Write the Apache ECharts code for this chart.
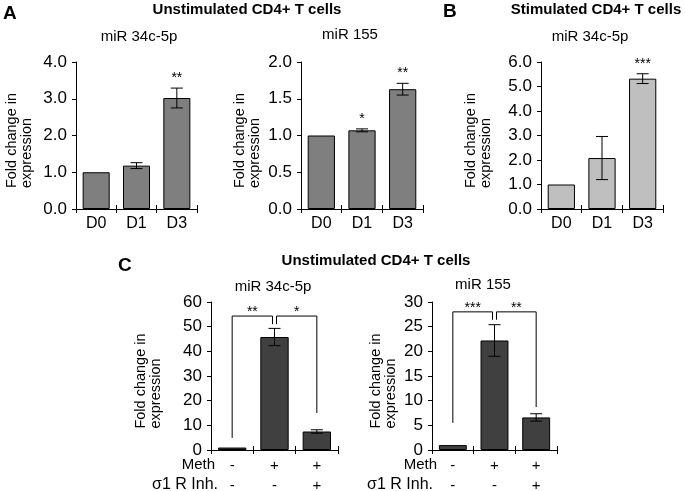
<!DOCTYPE html>
<html><head><meta charset="utf-8">
<script src="https://cdn.jsdelivr.net/npm/echarts/dist/echarts.min.js"></script>
<style>html,body{margin:0;padding:0;background:#fff}#c{width:685px;height:491px}</style>
</head><body><div id="c"></div><script>
// ---- data ----
const catsA = ['D0', 'D1', 'D3'];
const unstim34Values = [1.0, 1.18, 3.02];
const unstim34Err = [0, 0.08, 0.27];
const unstim34Stars = ['', '', '**'];
const unstim155Values = [1.0, 1.07, 1.63];
const unstim155Err = [0, 0.02, 0.08];
const unstim155Stars = ['', '*', '**'];
const stim34Values = [1.0, 2.08, 5.32];
const stim34Err = [0, 0.88, 0.20];
const stim34Stars = ['', '', '***'];
const catsC = ['-\n-', '+\n-', '+\n+'];
const meth34Values = [1.0, 45.8, 7.5];
const meth34Err = [0, 3.5, 0.7];
const meth155Values = [1.0, 22.2, 6.6];
const meth155Err = [0, 3.2, 0.75];
// brackets: [fromCat, toCat, topValue, fromLegBottom, toLegBottom]
const meth34Brackets = [[0, 1, 54.3, 4.9, 51.0], [1, 2, 54.3, 51.0, 15.0]];
const meth34BracketStars = ['**', '*'];
const meth155Brackets = [[0, 1, 28.0, 5.5, 26.4], [1, 2, 28.0, 26.4, 8.7]];
const meth155BracketStars = ['***', '**'];
const ticksA34 = ['0.0', '1.0', '2.0', '3.0', '4.0'];
const ticksA155 = ['0.0', '0.5', '1.0', '1.5', '2.0'];
const ticksB34 = ['0.0', '1.0', '2.0', '3.0', '4.0', '5.0', '6.0'];
const ticksC34 = ['0', '10', '20', '30', '40', '50', '60'];
const ticksC155 = ['0', '5', '10', '15', '20', '25', '30'];

const FONT = '"Liberation Sans", Arial, sans-serif';
const chart = echarts.init(document.getElementById('c'));

function makeErr(stars) {
  return function (params, api) {
    const x = api.value(0), v = api.value(1), e = api.value(2);
    const children = [];
    const top = api.coord([x, v + e]);
    const st = { stroke: '#000', lineWidth: 1 };
    if (e > 0) {
      const bot = api.coord([x, v - e]);
      const hw = 6;
      children.push({ type: 'line', shape: { x1: top[0], y1: top[1], x2: bot[0], y2: bot[1] }, style: st });
      children.push({ type: 'line', shape: { x1: top[0] - hw, y1: top[1], x2: top[0] + hw, y2: top[1] }, style: st });
      children.push({ type: 'line', shape: { x1: bot[0] - hw, y1: bot[1], x2: bot[0] + hw, y2: bot[1] }, style: st });
    }
    const s = stars && stars[params.dataIndex];
    if (s) children.push({ type: 'text', style: { text: s, x: top[0], y: top[1] - 3, align: 'center', verticalAlign: 'bottom', font: '14px ' + FONT, fill: '#000' } });
    return { type: 'group', children };
  };
}
function makeBracket(labels) {
  return function (params, api) {
    const a = api.value(0), b = api.value(1), top = api.value(2), fb = api.value(3), tb = api.value(4);
    const p1 = api.coord([a, fb]), p2 = api.coord([a, top]), p3 = api.coord([b, top]), p4 = api.coord([b, tb]);
    const inset = 2;
    const xa = p1[0] + (a === 1 ? inset : 0);
    const xb = p3[0] - (b === 1 ? inset : 0);
    const st = { stroke: '#000', lineWidth: 1, fill: null };
    return { type: 'group', children: [
      { type: 'polyline', shape: { points: [[xa, p1[1]], [xa, p2[1]], [xb, p3[1]], [xb, p4[1]]] }, style: st },
      { type: 'text', style: { text: labels[params.dataIndex], x: (xa + xb) / 2, y: p2[1] + 3, align: 'center', verticalAlign: 'bottom', font: '14px ' + FONT, fill: '#000' } }
    ] };
  };
}

const panels = [
  { cats: catsA, vals: unstim34Values, err: unstim34Err, stars: unstim34Stars, ticks: ticksA34, color: '#7f7f7f', grid: { left: 76, top: 62, width: 121, height: 147 }, nameGap: 42 },
  { cats: catsA, vals: unstim155Values, err: unstim155Err, stars: unstim155Stars, ticks: ticksA155, color: '#7f7f7f', grid: { left: 301, top: 62, width: 122, height: 147 }, nameGap: 39 },
  { cats: catsA, vals: stim34Values, err: stim34Err, stars: stim34Stars, ticks: ticksB34, color: '#bfbfbf', grid: { left: 541, top: 62, width: 122, height: 147 }, nameGap: 48 },
  { cats: catsC, vals: meth34Values, err: meth34Err, brackets: meth34Brackets, bstars: meth34BracketStars, ticks: ticksC34, color: '#404040', grid: { left: 211, top: 302, width: 127, height: 148 }, nameGap: 48, table: true },
  { cats: catsC, vals: meth155Values, err: meth155Err, brackets: meth155Brackets, bstars: meth155BracketStars, ticks: ticksC155, color: '#404040', grid: { left: 432, top: 302, width: 125, height: 148 }, nameGap: 34, table: true }
];

const grid = [], xAxis = [], yAxis = [], series = [];
panels.forEach((p, i) => {
  grid.push(Object.assign({ containLabel: false, outerBoundsMode: 'none' }, p.grid));
  const tv = p.ticks.map(Number);
  const min = tv[0], max = tv[tv.length - 1], interval = tv[1] - tv[0];
  xAxis.push({ type: 'category', gridIndex: i, data: p.cats, position: 'bottom',
    axisLine: { show: true, lineStyle: { color: '#000', width: 1 } },
    axisTick: { show: true, length: 4, lineStyle: { color: '#000' } },
    axisLabel: { color: '#000', fontFamily: FONT, fontSize: p.table ? 15 : 16, margin: p.table ? 6 : 5, lineHeight: 20, interval: 0 } });
  xAxis.push({ type: 'category', gridIndex: i, data: p.cats, position: 'top', offset: -p.grid.height,
    axisLine: { show: false }, axisTick: { show: true, length: 4, lineStyle: { color: '#000' } }, axisLabel: { show: false } });
  yAxis.push({ type: 'value', gridIndex: i, min, max, interval,
    axisLine: { show: true, lineStyle: { color: '#000' } },
    axisTick: { show: true, length: 4, lineStyle: { color: '#000' } },
    splitLine: { show: false },
    axisLabel: { color: '#000', fontFamily: FONT, fontSize: 17, margin: 9, formatter: v => p.ticks[Math.round((v - min) / interval)] },
    name: '{l|Fold change in}\n{l|expression}', nameLocation: 'middle', nameRotate: 90, nameGap: p.nameGap,
    nameTextStyle: { color: '#000', fontFamily: FONT, fontSize: 14.5, lineHeight: 15, padding: [0, 10, 0, 0],
      rich: { l: { align: 'left', color: '#000', fontFamily: FONT, fontSize: 14.5, lineHeight: 15 } } } });
  const xi = i * 2;
  series.push({ type: 'bar', xAxisIndex: xi, yAxisIndex: i, data: p.vals, barWidth: '67%', silent: true,
    itemStyle: { color: p.color, borderColor: '#000', borderWidth: 1 } });
  series.push({ type: 'custom', xAxisIndex: xi, yAxisIndex: i, silent: true, z: 3,
    data: p.vals.map((v, j) => [j, v, p.err[j]]), encode: { x: 0, y: 1 }, renderItem: makeErr(p.stars) });
  if (p.brackets) series.push({ type: 'custom', xAxisIndex: xi, yAxisIndex: i, silent: true, z: 3,
    data: p.brackets, encode: { x: 0, y: 2 }, renderItem: makeBracket(p.bstars) });
});

const texts = [
  ['A', 3, 14, 'bold 19px', 'left'],
  ['Unstimulated CD4+ T cells', 247, 10, 'bold 15px', 'center'],
  ['miR 34c-5p', 139, 37, '15px', 'center'],
  ['miR 155', 350, 35, '15px', 'center'],
  ['B', 443, 12, 'bold 19px', 'left'],
  ['Stimulated CD4+ T cells', 596, 10, 'bold 15px', 'center'],
  ['miR 34c-5p', 590, 37, '15px', 'center'],
  ['C', 118, 266, 'bold 19px', 'left'],
  ['Unstimulated CD4+ T cells', 376, 261, 'bold 15px', 'center'],
  ['miR 34c-5p', 273, 287, '15px', 'center'],
  ['miR 155', 483, 285, '15px', 'center'],
  ['Meth', 215, 465, '15px', 'right'],
  ['σ1 R Inh.', 218, 485, '16px', 'right'],
  ['Meth', 437, 465, '15px', 'right'],
  ['σ1 R Inh.', 433, 485, '16px', 'right']
];
const graphic = texts.map(t => ({ type: 'text', silent: true,
  style: { text: t[0], x: t[1], y: t[2], font: t[3] + ' ' + FONT, fill: '#000', align: t[4], verticalAlign: 'middle' } }));

chart.setOption({ animation: false, backgroundColor: '#fff', grid, xAxis, yAxis, series, graphic });
</script></body></html>
